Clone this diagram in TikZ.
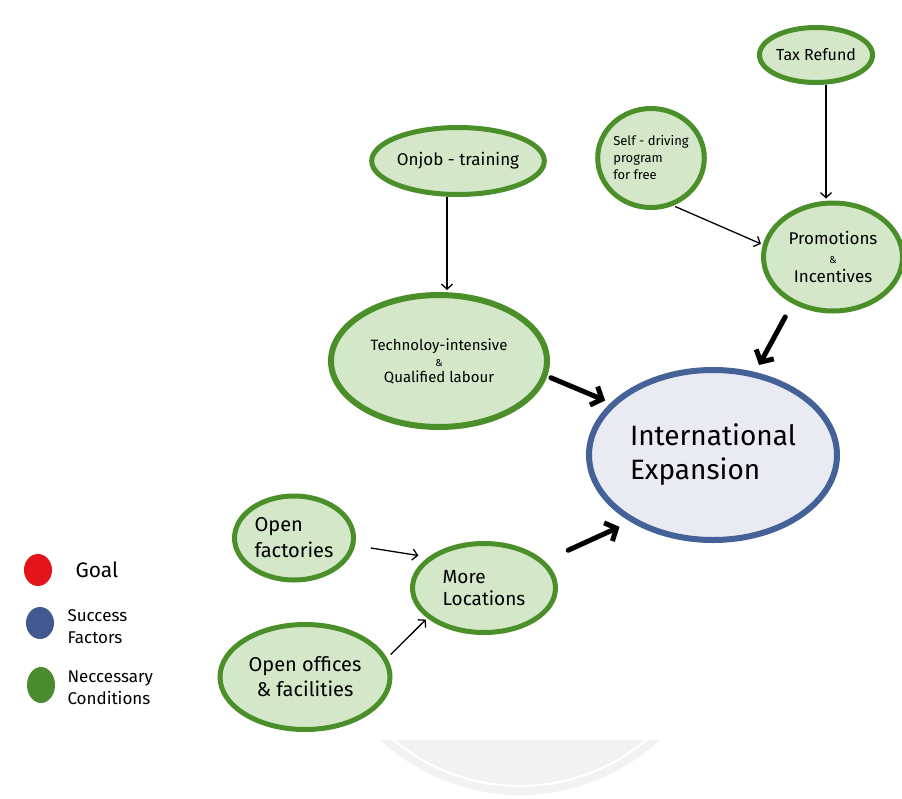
\documentclass[tikz,border=0pt]{standalone}
\usepackage{fontspec}
\setmainfont{Fira Sans}
\usetikzlibrary{shapes.geometric,arrows.meta}
\definecolor{gline}{HTML}{4B8F2B}
\definecolor{gfill}{HTML}{D4E7C8}
\definecolor{bline}{HTML}{456298}
\definecolor{bfill}{HTML}{E9EAF2}
\definecolor{goalred}{HTML}{E3141C}
\definecolor{succblue}{HTML}{41598F}
\definecolor{condgreen}{HTML}{4A8B2E}
\newcommand{\fs}[2]{\fontsize{#1}{#2}\selectfont}
\newcommand{\smallamp}{{\fs{10}{10}\&}}
\begin{document}
\begin{tikzpicture}[x=1pt,y=-1pt,
  cond/.style={ellipse, draw=gline, fill=gfill, line width=5pt, inner sep=0pt, align=center},
  goalnode/.style={ellipse, draw=bline, fill=bfill, line width=6pt, inner sep=0pt, align=left},
  thinarrow/.style={-{Straight Barb[length=5pt,width=11pt]}, line width=1.3pt},
  thickarrow/.style={-{Straight Barb[length=9pt,width=20pt]}, line width=5pt, line cap=round},
  legdot/.style={ellipse, inner sep=0pt, minimum width=28pt, minimum height=32pt},
  legtext/.style={anchor=west, align=left}
]
\useasboundingbox (0,0) rectangle (902,798);

% faint watermark
\begin{scope}
\clip (370,740) rectangle (700,798);
\fill[gray!10] (520,590) circle (205pt);
\draw[white, line width=2pt] (520,590) circle (196pt);
\end{scope}

% nodes
\node[cond, minimum width=113pt, minimum height=55pt, font=\fs{16}{19}] (tax) at (816,55)
  {Tax Refund};
\node[cond, minimum width=101pt, minimum height=99pt, align=left, font=\fs{13}{17}] (selfd) at (651,158)
  {Self - driving\\program\\for free};
\node[cond, minimum width=139pt, minimum height=108pt, font=\fs{17}{19}] (promo) at (833,257)
  {Promotions\\\smallamp\\Incentives};
\node[cond, minimum width=162pt, minimum height=67pt, font=\fs{17}{20}] (onjob) at (458,161)
  {Onjob - training};
\node[cond, line width=6pt, minimum width=216pt, minimum height=132pt, font=\fs{15}{16}] (tech) at (439,361)
  {Technoloy-intensive\\\smallamp\\Qualified labour};
\node[goalnode, minimum width=248pt, minimum height=170pt, font=\fs{28}{34}] (intl) at (713,455)
  {International\\Expansion};
\node[cond, minimum width=119pt, minimum height=84pt, align=left, font=\fs{20}{26}] (fact) at (294,538)
  {Open\\factories};
\node[cond, minimum width=143pt, minimum height=89pt, align=left, font=\fs{19}{22}] (more) at (484,588)
  {More\\Locations};
\node[cond, minimum width=170pt, minimum height=105pt, font=\fs{20}{25}] (offices) at (305,677)
  {Open offices\\\& facilities};

% connectors
\draw[thinarrow, shorten >=2pt] ([xshift=-11pt]onjob.south) -- ([xshift=8pt]tech.north);
\draw[thinarrow, shorten >=2pt] ([xshift=10pt]tax.south) -- ([xshift=-7pt]promo.north);
\draw[thinarrow, shorten <=2pt, shorten >=2pt] (selfd.-65) -- (promo.170);
\draw[thinarrow, shorten <=16pt, shorten >=10pt] (fact.-7) -- (more.151);
\draw[thinarrow, shorten <=5pt, shorten >=2pt] (offices.13) -- (more.-152);
\draw[thickarrow, shorten <=4pt, shorten >=6pt] (tech.-8.6) -- (intl.153);
\draw[thickarrow, shorten <=15pt, shorten >=8pt] (promo.-131) -- (intl.63);
\draw[thickarrow, shorten <=26pt, shorten >=12pt] (more.24) -- (intl.-141);

% legend
\node[legdot, fill=goalred] (goaldot) at (38,570) {};
\node[legdot, fill=succblue] (succdot) at (40,623) {};
\node[legdot, fill=condgreen, minimum height=36pt] (conddot) at (41,685) {};
\node[legtext, font=\fs{21}{24}] (goaltext) at (72,570) {Goal};
\node[legtext, font=\fs{17}{22}] (succtext) at (64,627) {Success\\Factors};
\node[legtext, font=\fs{17}{22}] (condtext) at (64,688) {Neccessary\\Conditions};
\end{tikzpicture}
\end{document}
